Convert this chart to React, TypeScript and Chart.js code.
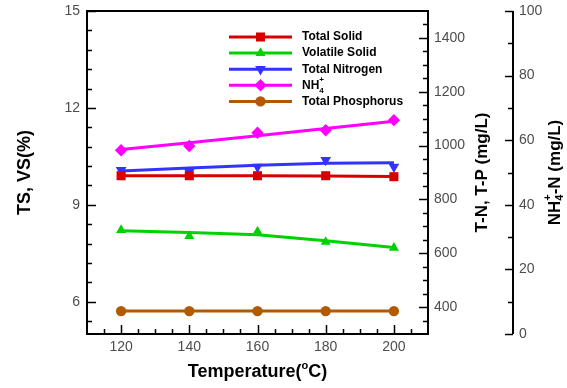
import React, { useEffect, useRef } from 'react';
import { Chart, registerables } from 'chart.js';

Chart.register(...registerables);

// ---- data ----
const temperatures = [120, 140, 160, 180, 200];

const totalSolid = [9.9, 9.9, 9.9, 9.9, 9.87];
const totalSolidFit = [9.9, 9.9, 9.9, 9.89, 9.88];

const volatileSolid = [8.22, 8.03, 8.17, 7.85, 7.67];
const volatileSolidFit = [8.2, 8.14, 8.07, 7.89, 7.68];

const totalNitrogen = [909, 902, 921, 946, 921];
const totalNitrogenFit = [906, 917, 927, 934, 936];

const ammonium = [56.9, 58.2, 62.3, 63.1, 66.2];
const ammoniumFit = [57.1, 59.2, 61.4, 63.6, 65.9];

const totalPhosphorus = [385, 385, 385, 385, 385];
const totalPhosphorusFit = [385, 385, 385, 385, 385];

const xTicks = [120, 140, 160, 180, 200];
const leftTicks = [6, 9, 12, 15];
const midTicks = [400, 600, 800, 1000, 1200, 1400];
const rightTicks = [0, 20, 40, 60, 80, 100];

const legendLabels = ['Total Solid', 'Volatile Solid', 'Total Nitrogen', 'NH4+', 'Total Phosphorus'];

const FONT = "'Liberation Sans', Arial, sans-serif";

type Series = {
  label: string;
  pts: number[];
  fit: number[];
  axis: string;
  color: string;
  style: string;
  r: number;
  rot: number;
};

const series: Series[] = [
  { label: legendLabels[0], pts: totalSolid, fit: totalSolidFit, axis: 'yL', color: '#d70000', style: 'rect', r: 6.4, rot: 0 },
  { label: legendLabels[1], pts: volatileSolid, fit: volatileSolidFit, axis: 'yL', color: '#00d200', style: 'triangle', r: 5.8, rot: 0 },
  { label: legendLabels[2], pts: totalNitrogen, fit: totalNitrogenFit, axis: 'yM', color: '#3333ff', style: 'triangle', r: 6.2, rot: 180 },
  { label: legendLabels[3], pts: ammonium, fit: ammoniumFit, axis: 'yR', color: '#ff00ff', style: 'rectRot', r: 6.2, rot: 0 },
  { label: legendLabels[4], pts: totalPhosphorus, fit: totalPhosphorusFit, axis: 'yM', color: '#b35a00', style: 'circle', r: 5.2, rot: 0 },
];

type Run = { t: string; size: number; dy: number; stack?: boolean };

function drawRich(ctx: CanvasRenderingContext2D, runs: Run[], x: number, y: number, align: 'left' | 'center', weight: string) {
  let cx = 0;
  let lastStart = 0;
  let lastW = 0;
  const placed: { r: Run; x: number }[] = [];
  for (const r of runs) {
    ctx.font = `${weight} ${r.size}px ${FONT}`;
    const w = ctx.measureText(r.t).width;
    if (r.stack) {
      placed.push({ r, x: lastStart });
      const nw = Math.max(lastW, w);
      cx = lastStart + nw;
      lastW = nw;
    } else {
      placed.push({ r, x: cx });
      lastStart = cx;
      lastW = w;
      cx += w;
    }
  }
  const start = align === 'center' ? x - cx / 2 : x;
  ctx.textAlign = 'left';
  ctx.textBaseline = 'middle';
  for (const p of placed) {
    ctx.font = `${weight} ${p.r.size}px ${FONT}`;
    ctx.fillText(p.r.t, start + p.x, y + p.r.dy);
  }
}

function drawMarker(ctx: CanvasRenderingContext2D, s: Series, x: number, y: number) {
  ctx.beginPath();
  const r = s.r;
  if (s.style === 'rect') {
    const h = Math.SQRT1_2 * r;
    ctx.rect(x - h, y - h, 2 * h, 2 * h);
  } else if (s.style === 'rectRot') {
    ctx.moveTo(x - r, y);
    ctx.lineTo(x, y - r);
    ctx.lineTo(x + r, y);
    ctx.lineTo(x, y + r);
    ctx.closePath();
  } else if (s.style === 'circle') {
    ctx.arc(x, y, r, 0, Math.PI * 2);
  } else {
    let rad = (s.rot * Math.PI) / 180;
    ctx.moveTo(x + Math.sin(rad) * r, y - Math.cos(rad) * r);
    rad += (2 * Math.PI) / 3;
    ctx.lineTo(x + Math.sin(rad) * r, y - Math.cos(rad) * r);
    rad += (2 * Math.PI) / 3;
    ctx.lineTo(x + Math.sin(rad) * r, y - Math.cos(rad) * r);
    ctx.closePath();
  }
  ctx.fillStyle = s.color;
  ctx.fill();
}

function range(from: number, to: number, step: number): number[] {
  const out: number[] = [];
  const n = Math.round((to - from) / step);
  for (let i = 0; i <= n; i++) out.push(+(from + i * step).toFixed(6));
  return out;
}

const decorPlugin = {
  id: 'decor',
  afterDraw(chart: any) {
    const { ctx, chartArea: a, scales } = chart;
    const sx = scales.x;
    const yL = scales.yL;
    const yM = scales.yM;
    const yR = scales.yR;
    const rightX = a.right + 85;
    ctx.save();

    // frame
    ctx.strokeStyle = '#000';
    ctx.lineWidth = 2;
    ctx.strokeRect(a.left, a.top, a.right - a.left, a.bottom - a.top);

    // right axis line
    ctx.beginPath();
    ctx.moveTo(rightX, a.top);
    ctx.lineTo(rightX, a.bottom);
    ctx.stroke();

    ctx.lineWidth = 1.5;
    ctx.beginPath();
    // x ticks (inward, upward)
    for (const v of range(115, 205, 5)) {
      const px = Math.round(sx.getPixelForValue(v)) + 0.5;
      const len = xTicks.includes(v) ? 9 : 5;
      ctx.moveTo(px, a.bottom);
      ctx.lineTo(px, a.bottom - len);
    }
    // left ticks (inward, rightward)
    for (const v of range(5.4, 14.4, 0.6)) {
      const py = Math.round(yL.getPixelForValue(v)) + 0.5;
      ctx.moveTo(a.left, py);
      ctx.lineTo(a.left + 5, py);
    }
    for (const v of leftTicks) {
      const py = Math.round(yL.getPixelForValue(v)) + 0.5;
      ctx.moveTo(a.left, py);
      ctx.lineTo(a.left + 9, py);
    }
    // middle ticks (inward, leftward)
    for (const v of range(350, 1450, 50)) {
      const py = Math.round(yM.getPixelForValue(v)) + 0.5;
      const len = midTicks.includes(v) ? 9 : 5;
      ctx.moveTo(a.right, py);
      ctx.lineTo(a.right - len, py);
    }
    // right axis ticks (leftward)
    for (const v of range(0, 100, 10)) {
      const py = Math.round(yR.getPixelForValue(v)) + 0.5;
      const len = rightTicks.includes(v) ? 8 : 5;
      ctx.moveTo(rightX, py);
      ctx.lineTo(rightX - len, py);
    }
    ctx.stroke();

    // tick labels
    ctx.fillStyle = '#4d4d4d';
    ctx.font = `14px ${FONT}`;
    ctx.textBaseline = 'middle';
    ctx.textAlign = 'center';
    for (const v of xTicks) ctx.fillText(String(v), sx.getPixelForValue(v), a.bottom + 13);
    ctx.textAlign = 'right';
    for (const v of leftTicks) ctx.fillText(String(v), a.left - 7, yL.getPixelForValue(v));
    ctx.textAlign = 'left';
    for (const v of midTicks) ctx.fillText(String(v), a.right + 6, yM.getPixelForValue(v));
    for (const v of rightTicks) ctx.fillText(String(v), rightX + 6, yR.getPixelForValue(v));

    // axis titles
    ctx.fillStyle = '#000';
    const cy = (a.top + a.bottom) / 2;
    drawRich(ctx, [{ t: 'Temperature(', size: 18, dy: 0 }, { t: 'o', size: 11, dy: -6 }, { t: 'C)', size: 18, dy: 0 }],
      (a.left + a.right) / 2, a.bottom + 38, 'center', 'bold');

    const rot = (x: number, runs: Run[]) => {
      ctx.save();
      ctx.translate(x, cy);
      ctx.rotate(-Math.PI / 2);
      drawRich(ctx, runs, 0, 0, 'center', 'bold');
      ctx.restore();
    };
    rot(a.left - 62, [{ t: 'TS, VS(%)', size: 18, dy: 0 }]);
    rot(a.right + 54, [{ t: 'T-N, T-P (mg/L)', size: 17, dy: 0 }]);
    rot(rightX + 42, [
      { t: 'NH', size: 17, dy: 0 },
      { t: '4', size: 11, dy: 5 },
      { t: '+', size: 11, dy: -7, stack: true },
      { t: '-N (mg/L)', size: 17, dy: 0 },
    ]);

    // legend
    const lx0 = 229;
    const lx1 = 292;
    const ly0 = 37;
    const gap = 16.1;
    series.forEach((s, i) => {
      const y = ly0 + i * gap;
      ctx.strokeStyle = s.color;
      ctx.lineWidth = 3;
      ctx.beginPath();
      ctx.moveTo(lx0, y);
      ctx.lineTo(lx1, y);
      ctx.stroke();
      drawMarker(ctx, s, (lx0 + lx1) / 2, y);
      ctx.fillStyle = '#000';
      if (s.label === 'NH4+') {
        drawRich(ctx, [
          { t: 'NH', size: 12, dy: 0 },
          { t: '4', size: 8, dy: 5 },
          { t: '+', size: 8, dy: -6, stack: true },
        ], 302, y, 'left', 'bold');
      } else {
        drawRich(ctx, [{ t: s.label, size: 12, dy: 0 }], 302, y, 'left', 'bold');
      }
    });

    ctx.restore();
  },
};

export default function App() {
  const ref = useRef<HTMLCanvasElement>(null);

  useEffect(() => {
    if (!ref.current) return;
    const datasets: any[] = [];
    series.forEach((s) => {
      datasets.push({
        label: s.label + ' fit',
        data: temperatures.map((t, i) => ({ x: t, y: s.fit[i] })),
        yAxisID: s.axis,
        borderColor: s.color,
        backgroundColor: s.color,
        borderWidth: 3,
        pointRadius: 0,
        showLine: true,
        fill: false,
        tension: 0,
        order: 2,
      });
      datasets.push({
        label: s.label,
        data: temperatures.map((t, i) => ({ x: t, y: s.pts[i] })),
        yAxisID: s.axis,
        borderColor: s.color,
        backgroundColor: s.color,
        borderWidth: 0,
        pointStyle: s.style,
        pointRadius: s.r,
        pointRotation: s.rot,
        showLine: false,
        order: 1,
      });
    });

    const chart = new Chart(ref.current, {
      type: 'scatter',
      data: { datasets },
      options: {
        animation: false,
        responsive: false,
        events: [],
        layout: { padding: { left: 87, right: 139, top: 11, bottom: 54 } },
        plugins: { legend: { display: false }, tooltip: { enabled: false } },
        scales: {
          x: { type: 'linear', min: 110, max: 210, display: false },
          yL: { type: 'linear', position: 'left', min: 5, max: 15, display: false },
          yM: { type: 'linear', position: 'right', min: 300, max: 1500, display: false },
          yR: { type: 'linear', position: 'right', min: 0, max: 100, display: false },
        },
      },
      plugins: [decorPlugin],
    });
    return () => chart.destroy();
  }, []);

  return (
    <div style={{ position: 'fixed', left: 0, top: 0, width: 567, height: 388, background: '#fff' }}>
      <canvas ref={ref} width={567} height={388} style={{ display: 'block' }} />
    </div>
  );
}
